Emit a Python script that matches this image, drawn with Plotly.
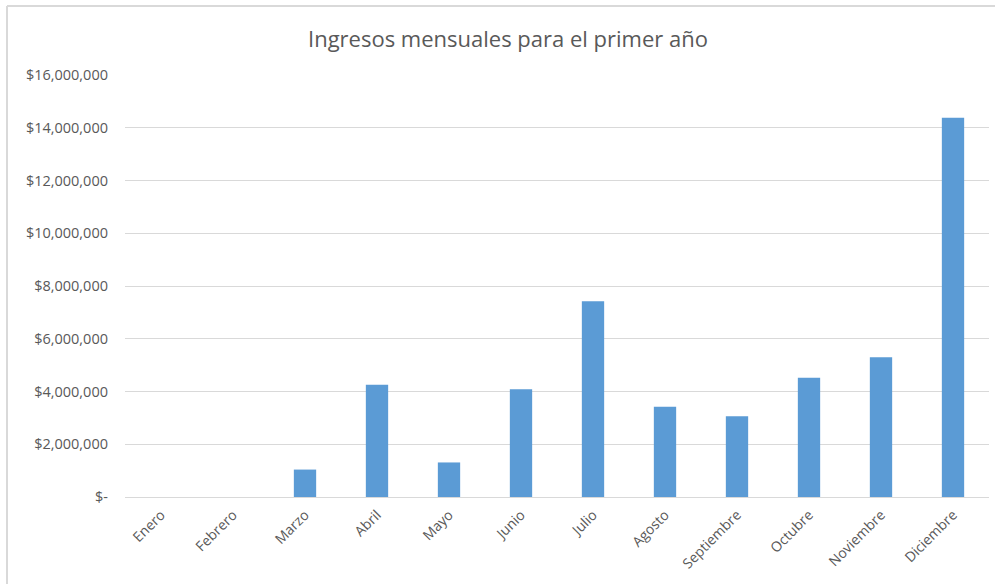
import plotly.graph_objects as go

months = ["Enero", "Febrero", "Marzo", "Abril", "Mayo", "Junio", "Julio",
          "Agosto", "Septiembre", "Octubre", "Noviembre", "Diciembre"]
revenue = [0, 0, 1040000, 4260000, 1310000, 4090000, 7420000,
           3420000, 3060000, 4520000, 5300000, 14380000]
y_tickvals = [0, 2000000, 4000000, 6000000, 8000000, 10000000, 12000000, 14000000, 16000000]
y_ticktext = ["$-", "$2,000,000", "$4,000,000", "$6,000,000", "$8,000,000",
              "$10,000,000", "$12,000,000", "$14,000,000", "$16,000,000"]
title_text = "Ingresos mensuales para el primer año"

FONT = "Open Sans"
GRAY = "#595959"

fig = go.Figure(go.Bar(
    x=months, y=revenue,
    marker=dict(color="#5B9BD5", line=dict(width=0)),
    width=0.31,
))

L, R, T, B = 125, 6, 75, 87
W, H = 995, 584
pw, ph = W - L - R, H - T - B

def px_x(px):
    return (px - L) / pw

def px_y(py):
    return (H - B - py) / ph

fig.update_layout(
    width=W, height=H,
    margin=dict(l=L, r=R, t=T, b=B),
    paper_bgcolor="white", plot_bgcolor="white",
    showlegend=False,
    title=dict(text=title_text, x=508 / W, xanchor="center", y=1 - 39 / H, yanchor="middle",
               font=dict(family=FONT, size=22, color=GRAY)),
    xaxis=dict(showgrid=False, showline=False, ticks="", tickangle=-45,
               ticklabelstandoff=6,
               tickfont=dict(family=FONT, size=14, color=GRAY)),
    yaxis=dict(range=[0, 16000000], tickvals=y_tickvals, ticktext=y_ticktext,
               showgrid=True, gridcolor="#d9d9d9", gridwidth=1, zeroline=True,
               zerolinecolor="#d9d9d9", zerolinewidth=1, showline=False, ticks="",
               ticklabelstandoff=16,
               tickfont=dict(family=FONT, size=14.5, color=GRAY)),
    shapes=[
        dict(type="line", xref="paper", yref="paper", x0=px_x(7), x1=px_x(7),
             y0=px_y(6), y1=px_y(590), line=dict(color="#d9d9d9", width=2)),
        dict(type="line", xref="paper", yref="paper", x0=px_x(7), x1=px_x(1000),
             y0=px_y(6), y1=px_y(6), line=dict(color="#d9d9d9", width=2)),
    ],
)

fig.write_html("out.html")
